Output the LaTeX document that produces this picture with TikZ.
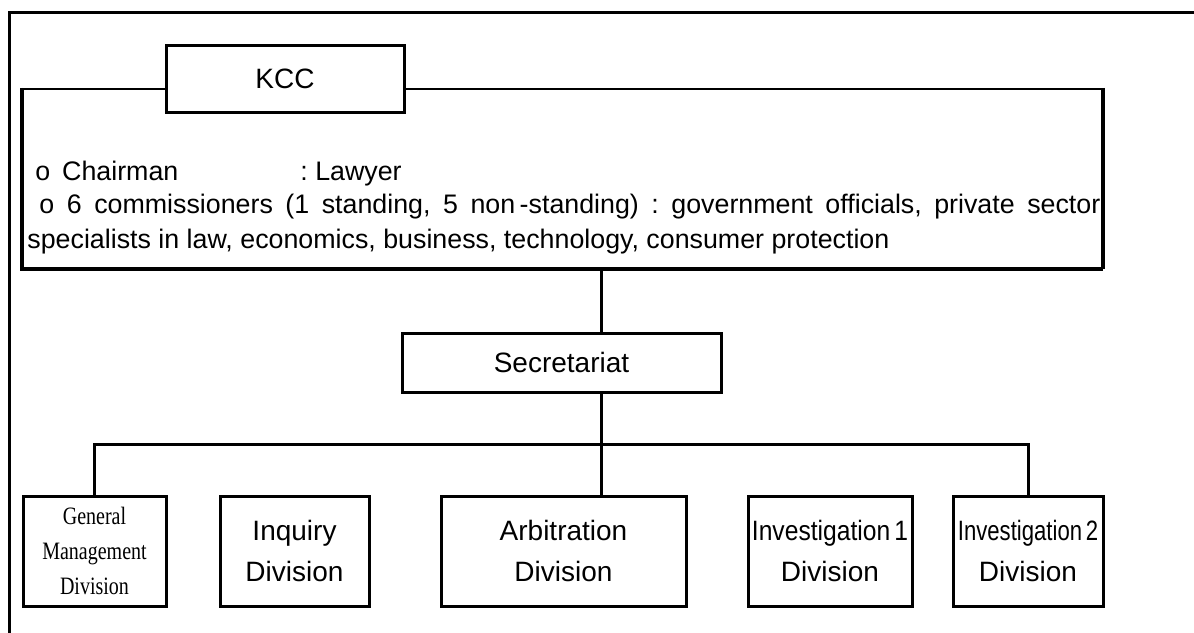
\documentclass[tikz,border=0pt]{standalone}
\usepackage{fontspec}
\setmainfont{Liberation Sans}
\newfontfamily\timesfont{Liberation Serif}
\usepackage{graphicx}
\frenchspacing

\begin{document}
\begin{tikzpicture}[x=0.5pt,y=-0.5pt,
		unit/.style={draw,line width=1.5pt,fill=white,align=center,inner sep=0pt,font=\fontsize{14}{20.5}\selectfont},
		memberline/.style={anchor=base west,inner sep=0pt,font=\fontsize{13.4}{16}\selectfont},
		linkline/.style={line width=1.5pt}]
			\useasboundingbox (0,0) rectangle (1194,632);
			\clip (0,0) rectangle (1194,632);
			\draw[line width=1.5pt] (9,640) -- (9,12) -- (1200,12);
			
			\node[draw,line width=1.2pt,minimum width=539.5pt,minimum height=89.5pt,inner sep=0pt] (commission) at (562.5,178.5) {};
			\node[unit,minimum width=119pt,minimum height=33.5pt] (kcc) at (285,78.5) {KCC};
			
			\node[memberline] (chairman) at (35,180) {o\, Chairman};
			\node[memberline] (lawyer) at (300,180) {: Lawyer};
			\node[memberline] (members) at (39,213) {\makebox[530.5pt][s]{o 6 commissioners (1 standing, 5 non\,-standing) : government officials, private sector}};
			\node[memberline] (fields) at (27,248) {specialists in law, economics, business, technology, consumer protection};
			\draw[line width=1.6pt] (commission.north east) -- (commission.south east);
			\draw[line width=1.6pt] (commission.north west) -- (commission.south west) -- (commission.south east);
			
			\node[unit,minimum width=159.5pt,minimum height=29.5pt] (secretariat) at (561.5,362.5) {Secretariat};
			
			\node[unit,minimum width=71.5pt,minimum height=55pt,font=\timesfont\fontsize{10}{17.5}\selectfont] (general) at (94.5,551) {\scalebox{1}[1.25]{General}\\\scalebox{1}[1.25]{Management}\\\scalebox{1}[1.25]{Division}};
			\node[unit,minimum width=74.5pt,minimum height=55pt] (inquiry) at (294.5,551) {Inquiry\\Division};
			\node[unit,minimum width=122.5pt,minimum height=55pt] (arbitration) at (563.5,551) {Arbitration\\Division};
			\node[unit,minimum width=82pt,minimum height=55pt] (investone) at (830,551) {\scalebox{0.88}[1]{Investigation\,1}\\Division};
			\node[unit,minimum width=75pt,minimum height=55pt] (investtwo) at (1028,551) {\scalebox{0.79}[1]{Investigation\,2}\\Division};
			
			\coordinate (junction) at (601,444);
			\draw[linkline] (commission.south -| junction) -- (secretariat.north -| junction);
			\draw[linkline] (secretariat.south -| junction) -- (junction);
			\draw[linkline] (general.north) |- (junction) -| (investtwo.north);
			\draw[linkline] (junction) -- (arbitration.north -| junction);
\end{tikzpicture}
\end{document}
